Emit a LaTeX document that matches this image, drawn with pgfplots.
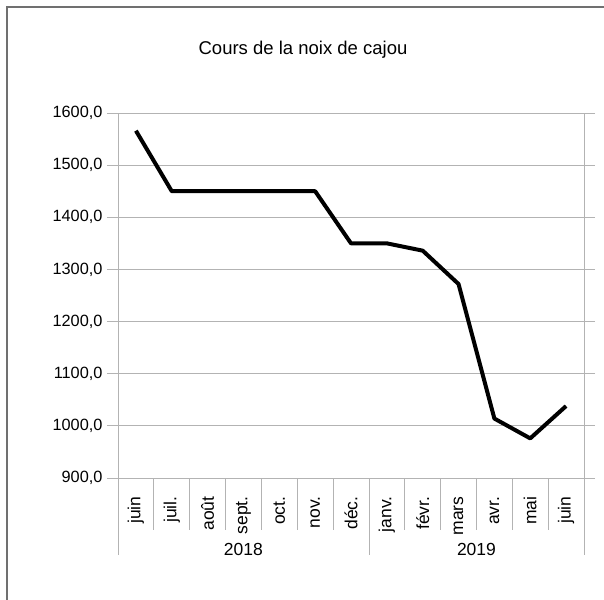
\documentclass[border=0pt]{standalone}
\usepackage{pgfplots}
\pgfplotsset{compat=1.18}
\usepackage{fontspec}
\setmainfont{Liberation Sans}
\definecolor{gridgray}{HTML}{B3B3B3}
\definecolor{framegray}{HTML}{707070}
\begin{document}
\begin{tikzpicture}[x=1pt,y=1pt]
\path[use as bounding box] (-118,-121) rectangle (486,478);
\draw[framegray, line width=1.6pt] (-111,-122) -- (-111,471) -- (487,471);
\node[font=\fontsize{18.5}{22}\selectfont] at (185,428) {Cours de la noix de cajou};
\begin{axis}[
  at={(0,0)}, anchor=south west,
  scale only axis, width=466pt, height=365pt,
  xmin=-0.5, xmax=12.5, ymin=900, ymax=1600,
  ytick={900,1000,...,1600},
  xtick={0,...,12},
  xticklabels={juin,juil.,août,sept.,oct.,nov.,déc.,janv.,févr.,mars,avr.,mai,juin},
  xticklabel style={rotate=90, anchor=east, xshift=-4pt, font=\fontsize{17.5}{20}\selectfont},
  major x tick style={draw=none},
  tick align=outside,
  major tick length=11pt,
  ymajorgrids, grid style={gridgray, line width=0.8pt},
  axis line style={gridgray, line width=0.8pt},
  every tick/.style={gridgray, line width=0.8pt},
  /pgf/number format/assume math mode=true,
  yticklabel={\pgfmathprintnumber[fixed,fixed zerofill,precision=1,use comma,1000 sep={}]{\tick}},
  yticklabel style={xshift=-1pt, font=\fontsize{16.3}{19}\selectfont},
  clip=false,
]
\pgfplotsinvokeforeach{-0.5,0.5,1.5,2.5,3.5,4.5,5.5,6.5,7.5,8.5,9.5,10.5,11.5,12.5}{
  \draw[gridgray, line width=0.8pt] (axis cs:#1,900) -- ([yshift=-52pt]axis cs:#1,900);
}
\pgfplotsinvokeforeach{-0.5,6.5,12.5}{
  \draw[gridgray, line width=0.8pt] (axis cs:#1,900) -- ([yshift=-77pt]axis cs:#1,900);
}
\node[font=\fontsize{17.5}{20}\selectfont] at ([yshift=-71pt]axis cs:3,900) {2018};
\node[font=\fontsize{17.5}{20}\selectfont] at ([yshift=-71pt]axis cs:9.5,900) {2019};
\addplot[black, line width=4pt, line join=round] coordinates {
(0,1566) (1,1450) (2,1450) (3,1450) (4,1450) (5,1450) (6,1350)
(7,1350) (8,1336) (9,1272) (10,1014) (11,976) (12,1038)
};
\end{axis}
\end{tikzpicture}
\end{document}
